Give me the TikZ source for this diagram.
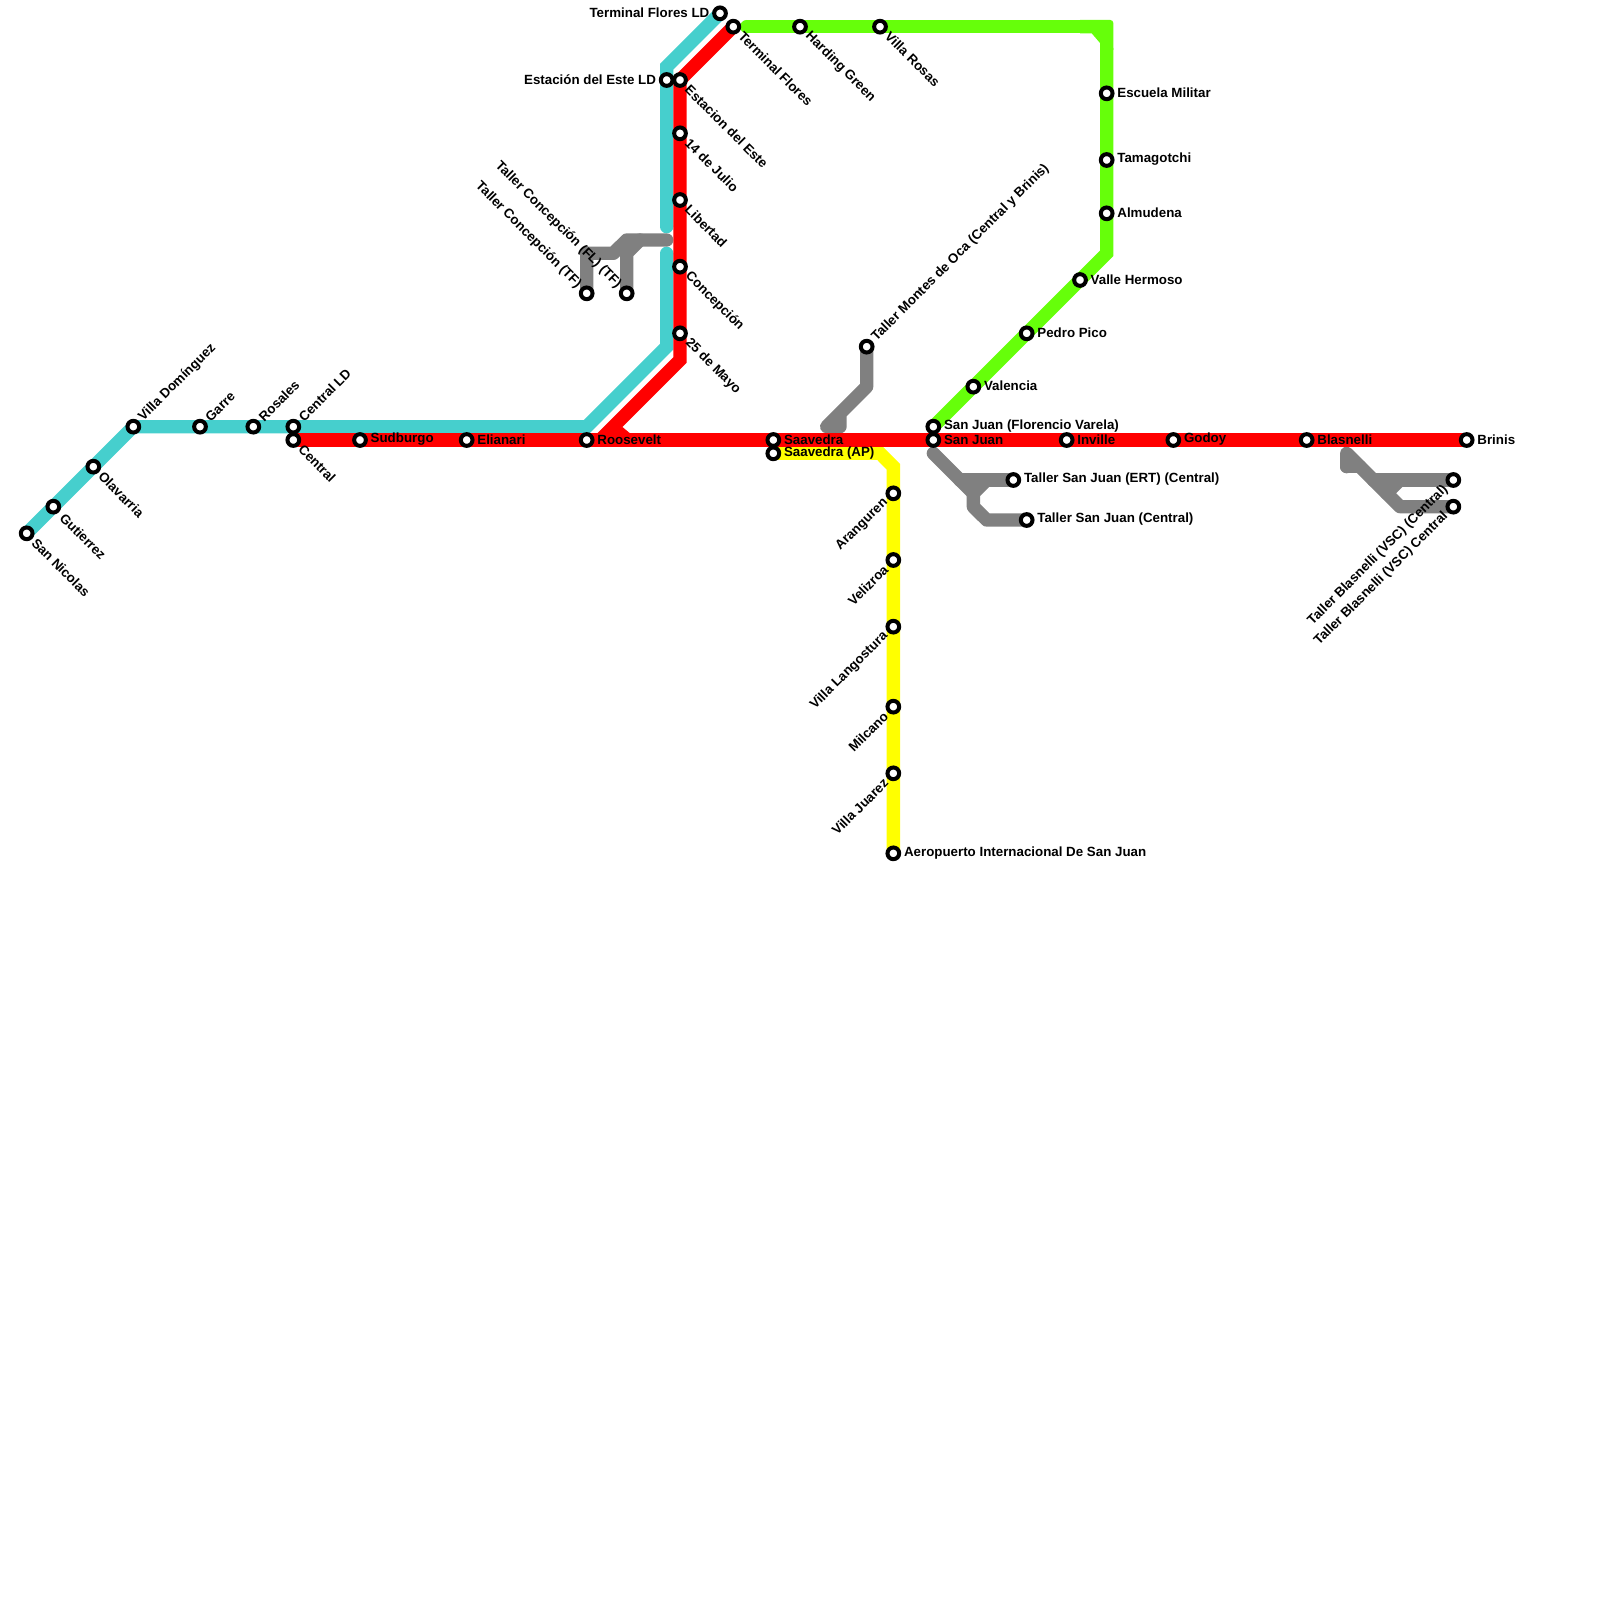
\documentclass[tikz,border=0pt]{standalone}
\usepackage{fontspec}
\setmainfont{Liberation Sans}
\usetikzlibrary{backgrounds}
\tikzset{
  x=1pt,y=-1pt,
  stn/.style={circle,draw=black,fill=white,line width=4pt,minimum size=11.7pt,inner sep=0pt,outer sep=0pt},
  lbl/.style={inner sep=0pt,font=\fontsize{13.33}{13.33}\bfseries\selectfont,text=black,draw=none,fill=none},
  E/.style={lbl,anchor=west,xshift=10.5pt,yshift=0.5pt},
  W/.style={lbl,anchor=east,xshift=-10.5pt,yshift=0.5pt},
  SE/.style={lbl,anchor=west,rotate=-45,xshift=10.5pt},
  NE/.style={lbl,anchor=west,rotate=45,xshift=10.5pt},
  SW/.style={lbl,anchor=east,rotate=45,xshift=-10.5pt},
  NW/.style={lbl,anchor=east,rotate=-45,xshift=-10.5pt},
  rail/.style={line width=13.33pt,line join=miter,line cap=butt},
  shop/.style={line width=13.33pt,draw=railgrey,line join=round,line cap=round},
}
\definecolor{railteal}{HTML}{46CFCD}
\definecolor{railred}{HTML}{FF0000}
\definecolor{railgreen}{HTML}{66FF0A}
\definecolor{railyellow}{HTML}{FFFF00}
\definecolor{railgrey}{HTML}{808080}
\newcommand{\stnode}[5]{\node[stn] (#1) at (#2,#3) {}; \node[#4] (#1L) at (#2,#3) {#5};}
\begin{document}
\begin{tikzpicture}
\useasboundingbox (0,0) rectangle (1600,1600);
% teal
\stnode{sn}{26.67}{533.33}{SE}{San Nicolas}
\stnode{gu}{53.33}{506.67}{SE,xshift=2pt}{Gutierrez}
\stnode{ol}{93.33}{466.67}{SE}{Olavarria}
\stnode{vd}{133.33}{426.67}{NE}{Villa Domínguez}
\stnode{ga}{200}{426.67}{NE}{Garre}
\stnode{ro}{253.33}{426.67}{NE}{Rosales}
\stnode{cl}{293.33}{426.67}{NE}{Central LD}
\stnode{el}{666.67}{80}{W}{Estación del Este LD}
\stnode{tl}{720}{13.33}{W}{Terminal Flores LD}
% red
\stnode{ce}{293.33}{440}{SE}{Central}
\stnode{su}{360}{440}{E}{Sudburgo}
\stnode{ei}{466.67}{440}{E}{Elianari}
\stnode{rv}{586.67}{440}{E}{Roosevelt}
\stnode{sa}{773.33}{440}{E}{Saavedra}
\stnode{sj}{933.33}{440}{E}{San Juan}
\stnode{iv}{1066.67}{440}{E}{Inville}
\stnode{go}{1173.33}{440}{E}{Godoy}
\stnode{bl}{1306.67}{440}{E}{Blasnelli}
\stnode{br}{1466.67}{440}{E}{Brinis}
\stnode{tf}{733.33}{26.67}{SE}{Terminal Flores}
\stnode{ee}{680}{80}{SE}{Estacion del Este}
\stnode{jl}{680}{133.33}{SE}{14 de Julio}
\stnode{li}{680}{200}{SE}{Libertad}
\stnode{cn}{680}{266.67}{SE}{Concepción}
\stnode{my}{680}{333.33}{SE}{25 de Mayo}
% green
\stnode{hg}{800}{26.67}{SE}{Harding Green}
\stnode{vr}{880}{26.67}{SE}{Villa Rosas}
\stnode{em}{1106.67}{93.33}{E}{Escuela Militar}
\stnode{ta}{1106.67}{160}{E}{Tamagotchi}
\stnode{al}{1106.67}{213.33}{E}{Almudena}
\stnode{vh}{1080}{280}{E}{Valle Hermoso}
\stnode{pp}{1026.67}{333.33}{E}{Pedro Pico}
\stnode{va}{973.33}{386.67}{E}{Valencia}
\stnode{sf}{933.33}{426.67}{E}{San Juan (Florencio Varela)}
% yellow
\stnode{ap}{773.33}{453.33}{E}{Saavedra (AP)}
\stnode{ar}{893.33}{493.33}{SW}{Aranguren}
\stnode{ve}{893.33}{560}{SW}{Velizroa}
\stnode{lg}{893.33}{626.67}{SW}{Villa Langostura}
\stnode{mi}{893.33}{706.67}{SW}{Milcano}
\stnode{ju}{893.33}{773.33}{SW}{Villa Juarez}
\stnode{ai}{893.33}{853.33}{E}{Aeropuerto Internacional De San Juan}
% grey
\stnode{tt}{586.67}{293.33}{NW}{Taller Concepción (TF)}
\stnode{tc}{626.67}{293.33}{NW}{Taller Concepción (FL) (TF)}
\stnode{mo}{866.67}{346.67}{NE}{Taller Montes de Oca (Central y Brinis)}
\stnode{te}{1013.33}{480}{E}{Taller San Juan (ERT) (Central)}
\stnode{ts}{1026.67}{520}{E}{Taller San Juan (Central)}
\stnode{bc}{1453.33}{480}{SW}{Taller Blasnelli (VSC) (Central)}
\stnode{bv}{1453.33}{506.67}{SW}{Taller Blasnelli (VSC) Central}
\begin{pgfonlayer}{background}
\draw[rail,railteal] (sn.center) -- (vd.center) -- (cl.center) -- (586.67,426.67) -- (666.67,346.67) -- (666.67,253.33);
\draw[rail,railteal] (666.67,226.67) -- (el.center) -- (666.67,66.67) -- (tl.center);
\fill[railteal] (666.67,253.33) circle (6.67);
\fill[railteal] (666.67,226.67) circle (6.67);
\draw[rail,railgreen] (746.67,26.67) -- (hg.center) -- (vr.center) -- (1085,26.67);
\fill[railgreen] (1080,20) [rounded corners=3] -- (1113.33,20) [sharp corners] -- (1113.33,50) -- (1100,50) -- (1100,43) -- (1091.7,33.33) -- (1080,33.33) -- cycle;
\draw[rail,railgreen] (1106.67,48) -- (em.center) -- (ta.center) -- (al.center) -- (1106.67,253.33) -- (vh.center) -- (pp.center) -- (va.center) -- (sf.center);
\fill[railgreen] (746.67,26.67) circle (6.67);
\draw[rail,railyellow] (ap.center) -- (880,453.33) -- (893.33,466.67) -- (ar.center) -- (ve.center) -- (lg.center) -- (mi.center) -- (ju.center) -- (ai.center);
\draw[shop] (tt.center) -- (586.67,253.33) -- (613.33,253.33) -- (626.67,240) -- (666.67,240);
\draw[shop] (tc.center) -- (626.67,253.33) -- (640,240);
\draw[shop] (mo.center) -- (866.67,386.67) -- (826.67,426.67) -- (840,426.67) -- (840,413.33);
\draw[shop] (933.33,453.33) -- (973.33,493.33);
\draw[shop] (960,480) -- (te.center);
\draw[shop] (986.67,480) -- (973.33,493.33) -- (973.33,506.67) -- (986.67,520) -- (ts.center);
\draw[shop] (1346.67,466.67) -- (1346.67,453.33) -- (1400,506.67) -- (bv.center);
\draw[shop] (1346.67,466.67) -- (1360,466.67);
\draw[shop] (1373.33,480) -- (bc.center);
\draw[shop] (1400,480) -- (1386.67,493.33);
\draw[rail,railred] (ce.center) -- (br.center);
\draw[rail,railred] (tf.center) -- (ee.center) -- (jl.center) -- (li.center) -- (cn.center) -- (my.center) -- (680,360) -- (600,440);
\fill[railred] (622.4,427) -- (630,433.33) -- (610,433.33) -- cycle;
\end{pgfonlayer}
\end{tikzpicture}
\end{document}
